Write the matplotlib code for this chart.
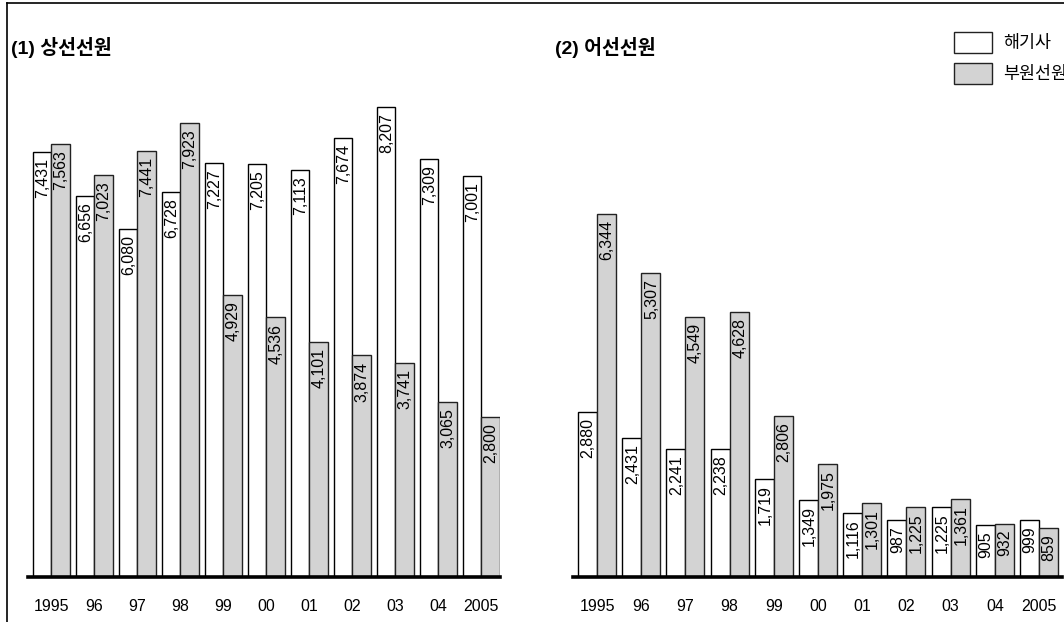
import matplotlib.pyplot as plt
from matplotlib.lines import Line2D
from matplotlib.patches import Rectangle
import numpy as np

plt.rcParams['font.family'] = ['Liberation Sans', 'Noto Sans CJK KR']

years = ['1995', '96', '97', '98', '99', '00', '01', '02', '03', '04', '2005']

# 상선선원
merchant_officers = [7431, 6656, 6080, 6728, 7227, 7205, 7113, 7674, 8207, 7309, 7001]
merchant_ratings = [7563, 7023, 7441, 7923, 4929, 4536, 4101, 3874, 3741, 3065, 2800]

# 어선선원
fishing_officers = [2880, 2431, 2241, 2238, 1719, 1349, 1116, 987, 1225, 905, 999]
fishing_ratings = [6344, 5307, 4549, 4628, 2806, 1975, 1301, 1225, 1361, 932, 859]

series_names = ['해기사', '부원선원']
panel_titles = ['(1) 상선선원', '(2) 어선선원']

W, H = 1064, 622
fig = plt.figure(figsize=(W / 100, H / 100), dpi=100)

GRAY = '#d3d3d3'
BAR_W = 0.43
YTOP = 9030


def px_axes(x0, x1, base_y, top_y):
    return fig.add_axes([x0 / W, 1 - base_y / H, (x1 - x0) / W, (base_y - top_y) / H])


def draw_panel(ax, officers, ratings, xlim):
    x = np.arange(len(years))
    b1 = ax.bar(x - BAR_W / 2, officers, BAR_W, color='white', edgecolor='black', linewidth=1)
    b2 = ax.bar(x + BAR_W / 2, ratings, BAR_W, color=GRAY, edgecolor='#222222', linewidth=1)
    for bars, vals in ((b1, officers), (b2, ratings)):
        for rect, v in zip(bars, vals):
            ax.annotate(f'{v:,}', (rect.get_x() + rect.get_width() / 2, v),
                        xytext=(0.5, -4.5), textcoords='offset points',
                        rotation=90, ha='center', va='top', fontsize=11.5)
    ax.set_xlim(*xlim)
    ax.set_ylim(0, YTOP)
    ax.set_xticks(x)
    ax.set_xticklabels(years, fontsize=11.5)
    ax.tick_params(axis='x', length=0, pad=16)
    ax.set_yticks([])
    for s in ('top', 'left', 'right'):
        ax.spines[s].set_visible(False)
    ax.spines['bottom'].set_linewidth(2.6)
    ax.patch.set_alpha(0)


ax1 = px_axes(28, 500, 577, 60)
draw_panel(ax1, merchant_officers, merchant_ratings, (-0.535, 10.44))

ax2 = px_axes(573, 1062, 577, 60)
draw_panel(ax2, fishing_officers, fishing_ratings, (-0.543, 10.52))

# panel titles
fig.text(11 / W, 1 - 47 / H, panel_titles[0], fontsize=14, fontweight='bold', va='center', ha='left')
fig.text(555 / W, 1 - 47 / H, panel_titles[1], fontsize=14, fontweight='bold', va='center', ha='left')

# legend
for i, (name, fc) in enumerate(zip(series_names, ['white', GRAY])):
    y0 = 32 + i * 31
    fig.patches.append(Rectangle((954 / W, 1 - (y0 + 21) / H), 38 / W, 21 / H,
                                 transform=fig.transFigure, facecolor=fc,
                                 edgecolor='#222222', linewidth=1))
    fig.text(1003 / W, 1 - (y0 + 11) / H, name, fontsize=12.5, va='center', ha='left')

# outer frame (top and left)
fig.lines.append(Line2D([7 / W, 1], [1 - 2.5 / H, 1 - 2.5 / H], transform=fig.transFigure,
                        color='black', linewidth=1.2))
fig.lines.append(Line2D([7 / W, 7 / W], [0, 1 - 2.5 / H], transform=fig.transFigure,
                        color='black', linewidth=1.2))

fig.savefig('out.png', dpi=100)
